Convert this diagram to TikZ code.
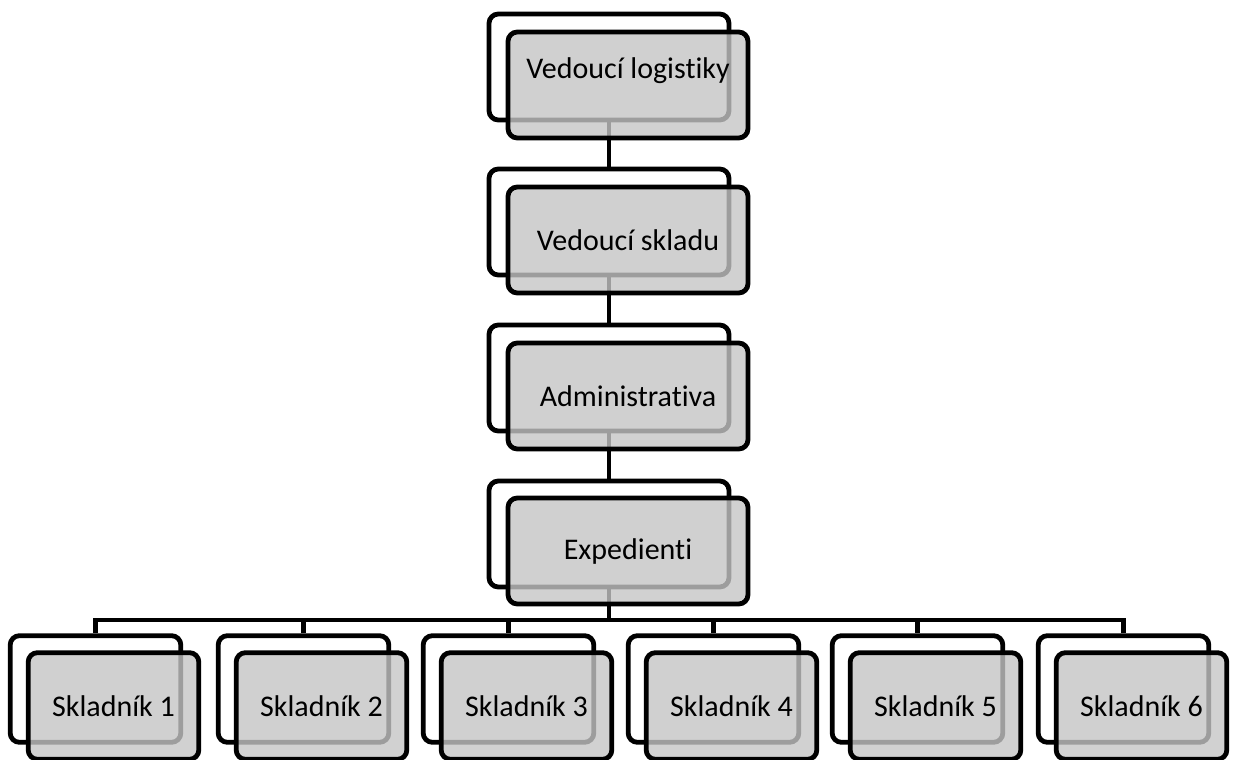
\documentclass[tikz,border=0pt]{standalone}
\usepackage{fontspec}
\setmainfont{Carlito}[Ligatures={NoCommon}]
\begin{document}
\begin{tikzpicture}[x=0.75pt,y=-0.75pt,
  boxline/.style={draw=black, line width=3.6pt, rounded corners=7pt, inner sep=0pt},
  backbox/.style={boxline, fill=white},
  frontbox/.style={boxline, fill={rgb,255:red,197;green,197;blue,197}, fill opacity=0.8, text opacity=1, font=\fontsize{22.5}{26}\selectfont},
  big/.style={minimum width=180pt, minimum height=79.5pt},
  small/.style={minimum width=128pt, minimum height=80pt},
  link/.style={line width=3.6pt}]
\useasboundingbox (0,0) rectangle (1233,760);
% back boxes
\node[backbox,big] (b1) at (609,67) {};
\node[backbox,big] (b2) at (609,222) {};
\node[backbox,big] (b3) at (609,378) {};
\node[backbox,big] (b4) at (609,534) {};
\foreach \i/\x in {1/95.5,2/303.5,3/508.5,4/713.5,5/917.5,6/1123.5}{
  \node[backbox,small] (s\i) at (\x,689) {};
}
% connectors
\coordinate (bus) at (609,620);
\draw[link] (b1.south) -- (b2.north);
\draw[link] (b2.south) -- (b3.north);
\draw[link] (b3.south) -- (b4.north);
\draw[link] (b4.south) -- (bus);
\foreach \i in {1,...,6}{
  \draw[link] (bus) -| (s\i.north);
}
% front boxes
\node[frontbox,big] (f1) at (628,85) {\raisebox{25pt}{Vedoucí logistiky}};
\node[frontbox,big] (f2) at (628,240) {Vedoucí skladu};
\node[frontbox,big] (f3) at (628,396) {Administrativa};
\node[frontbox,big] (f4) at (628,551) {Expedienti};
\foreach \i/\x in {1/113.5,2/321.5,3/526.5,4/731.5,5/935.5,6/1141.5}{
  \node[frontbox,small] (g\i) at (\x,706) {Skladník \i};
}
\end{tikzpicture}
\end{document}
